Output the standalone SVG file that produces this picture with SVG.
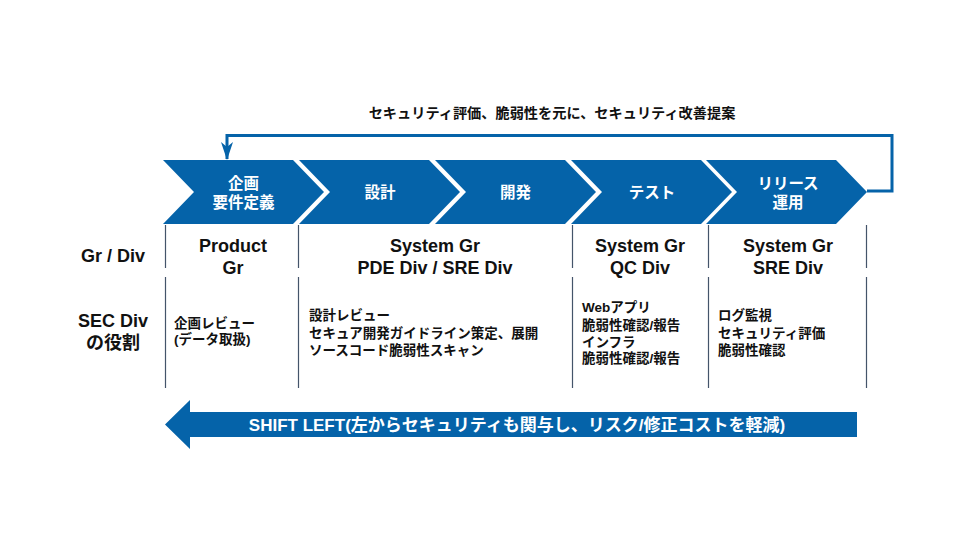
<svg xmlns="http://www.w3.org/2000/svg" width="960" height="540" viewBox="0 0 960 540">
<defs>
<style>
text{font-family:"Liberation Sans","Noto Sans CJK JP",sans-serif;font-weight:bold}
.chev{fill:#0563a9}
.cl{fill:#fff;font-size:15.5px;text-anchor:middle}
.hd{fill:#111;font-size:18px;text-anchor:middle}
.rl{fill:#111;font-size:13.5px}
.sep{stroke:#44546a;stroke-width:1.2;fill:none}
.fb{stroke:#0563a9;stroke-width:3;fill:none}
</style>
<marker id="ah" viewBox="0 0 18 12" refX="17" refY="6" markerWidth="6" markerHeight="4" orient="auto" markerUnits="strokeWidth">
<path d="M0,0 L18,6 L0,12 L5,6 Z" fill="#0563a9"/>
</marker>
</defs>
<rect width="960" height="540" fill="#fff"/>

<g id="connectors">
<path class="fb" d="M867,191 H892 V135.5 H227 V159" marker-end="url(#ah)"/>
<text x="552" y="118" fill="#111" font-size="14.2" text-anchor="middle">セキュリティ評価、脆弱性を元に、セキュリティ改善提案</text>
</g>

<g id="chev1">
<path class="chev" d="M163,160 H293 L324,192 L293,224 H163 L194,192 Z"/>
<text class="cl" x="243.5" y="188.5">企画</text>
<text class="cl" x="243.5" y="207.5">要件定義</text>
</g>
<g id="chev2">
<path class="chev" d="M299,160 H429 L460,192 L429,224 H299 L330,192 Z"/>
<text class="cl" x="380" y="197.5">設計</text>
</g>
<g id="chev3">
<path class="chev" d="M435,160 H565 L596,192 L565,224 H435 L466,192 Z"/>
<text class="cl" x="515.5" y="197.5">開発</text>
</g>
<g id="chev4">
<path class="chev" d="M571,160 H701 L732,192 L701,224 H571 L602,192 Z"/>
<text class="cl" x="652" y="197.5">テスト</text>
</g>
<g id="chev5">
<path class="chev" d="M706,160 H836 L867,192 L836,224 H706 L737,192 Z"/>
<text class="cl" x="788" y="188.5">リリース</text>
<text class="cl" x="788" y="207.5">運用</text>
</g>

<g id="separators">
<path class="sep" d="M165.5,225 V268 M165.5,277 V388 M298.5,225 V268 M298.5,277 V388 M572.5,225 V268 M572.5,277 V388 M708.5,225 V268 M708.5,277 V388 M866.5,225 V268 M866.5,277 V388"/>
</g>

<g id="row-labels">
<text class="hd" x="113" y="261.5">Gr / Div</text>
<text class="hd" x="113" y="326.5">SEC Div</text>
<text class="hd" x="113" y="348.5">の役割</text>
</g>

<g id="col1">
<text class="hd" x="233" y="251.5">Product</text>
<text class="hd" x="233" y="273.5">Gr</text>
<text class="rl" x="174" y="328">企画レビュー</text>
<text class="rl" x="174" y="344">(データ取扱)</text>
</g>
<g id="col2">
<text class="hd" x="435" y="251.5">System Gr</text>
<text class="hd" x="435" y="273.5">PDE Div / SRE Div</text>
<text class="rl" x="309" y="320">設計レビュー</text>
<text class="rl" x="309" y="338">セキュア開発ガイドライン策定、展開</text>
<text class="rl" x="309" y="355">ソースコード脆弱性スキャン</text>
</g>
<g id="col3">
<text class="hd" x="640" y="251.5">System Gr</text>
<text class="hd" x="640" y="273.5">QC Div</text>
<text class="rl" x="582" y="312">Webアプリ</text>
<text class="rl" x="582" y="330">脆弱性確認/報告</text>
<text class="rl" x="582" y="347">インフラ</text>
<text class="rl" x="582" y="363">脆弱性確認/報告</text>
</g>
<g id="col4">
<text class="hd" x="788" y="251.5">System Gr</text>
<text class="hd" x="788" y="273.5">SRE Div</text>
<text class="rl" x="718" y="320">ログ監視</text>
<text class="rl" x="718" y="338">セキュリティ評価</text>
<text class="rl" x="718" y="355">脆弱性確認</text>
</g>

<g id="shift-left">
<path class="chev" d="M857,412 V437 H190 V449 L165,424.5 L190,400 V412 Z"/>
<text x="517" y="430.5" fill="#fff" font-size="17" text-anchor="middle">SHIFT LEFT(左からセキュリティも関与し、リスク/修正コストを軽減)</text>
</g>
</svg>
